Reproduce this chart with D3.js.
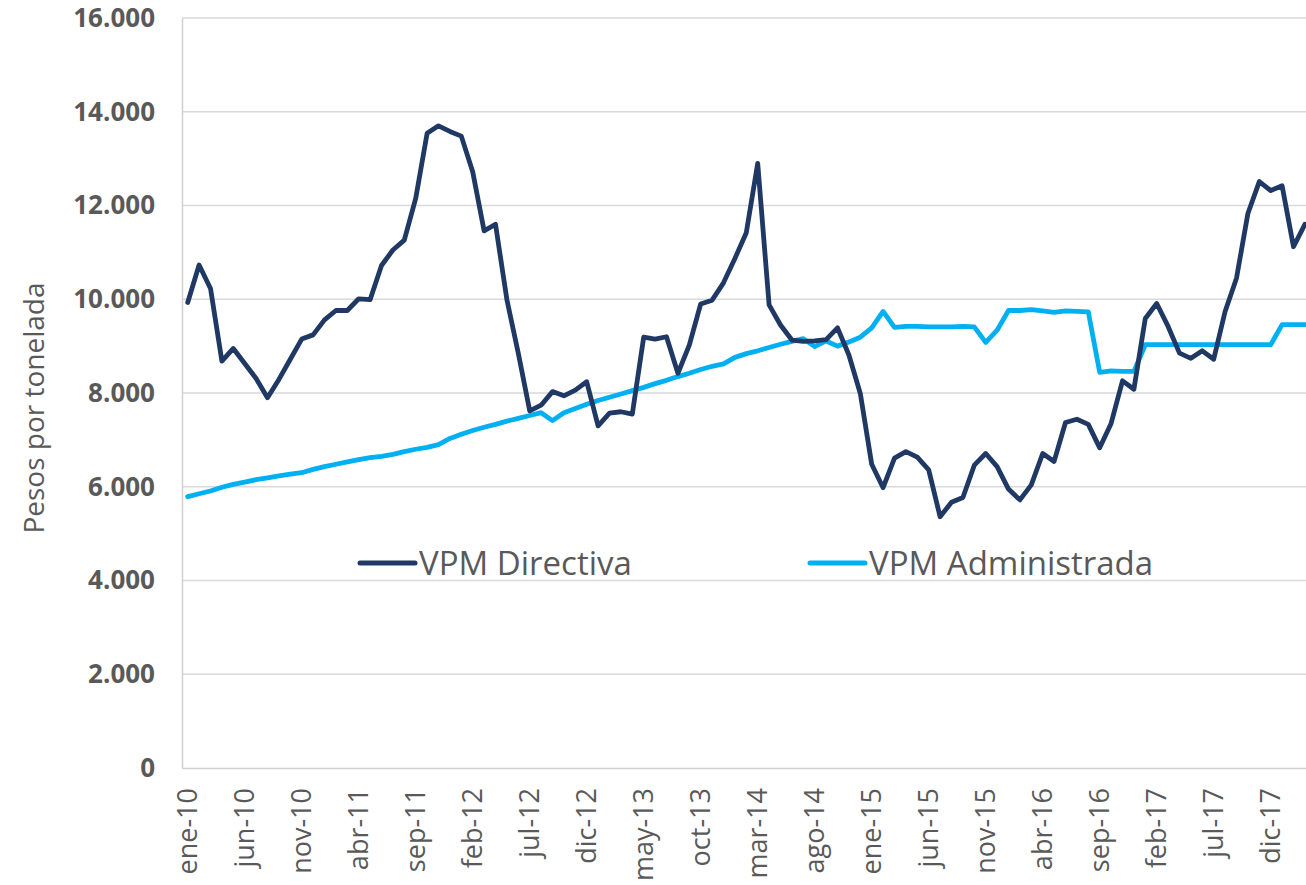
<!DOCTYPE html>
<html>
<head>
<meta charset="utf-8">
<script src="https://cdn.jsdelivr.net/npm/d3@7"></script>
<style>
  html, body { margin: 0; padding: 0; background: #fff; }
  svg { display: block; }
</style>
</head>
<body>
<svg id="chart" width="1306" height="885"></svg>
<script>
// ---- data ----
const monthNames = ["ene","feb","mar","abr","may","jun","jul","ago","sep","oct","nov","dic"];
const years = ["10","11","12","13","14","15","16","17","18"];
const categories = [];
years.forEach(yr => monthNames.forEach(m => categories.push(m + "-" + yr)));
categories.length = 99; // ene-10 .. mar-18

const vpmDirectiva = [
  9930, 10730, 10230, 8680, 8950, 8630, 8310, 7900, 8290, 8720,
  9150, 9240, 9560, 9760, 9760, 10010, 9990, 10720, 11050, 11260,
  12150, 13540, 13700, 13580, 13480, 12720, 11460, 11600, 9990, 8850,
  7620, 7740, 8030, 7940, 8060, 8240, 7300, 7570, 7600, 7550,
  9190, 9150, 9200, 8420, 9020, 9900, 9980, 10350, 10870, 11420,
  12900, 9880, 9450, 9130, 9100, 9110, 9140, 9390, 8810, 7990,
  6480, 5980, 6610, 6750, 6630, 6360, 5360, 5670, 5770, 6460,
  6710, 6430, 5950, 5720, 6040, 6710, 6540, 7370, 7440, 7330,
  6830, 7350, 8260, 8080, 9590, 9910, 9420, 8850, 8740, 8900,
  8720, 9740, 10450, 11830, 12510, 12320, 12420, 11120, 11600
];
const vpmAdministrada = [
  5790, 5850, 5910, 5990, 6050, 6100, 6150, 6190, 6230, 6270,
  6300, 6370, 6430, 6480, 6530, 6580, 6620, 6650, 6690, 6750,
  6800, 6840, 6900, 7030, 7120, 7200, 7270, 7330, 7400, 7460,
  7520, 7580, 7410, 7580, 7670, 7760, 7840, 7910, 7980, 8050,
  8120, 8200, 8270, 8350, 8420, 8500, 8570, 8620, 8760, 8840,
  8900, 8970, 9040, 9100, 9160, 8990, 9110, 9000, 9090, 9190,
  9390, 9740, 9400, 9420, 9420, 9410, 9410, 9410, 9420, 9410,
  9080, 9340, 9760, 9760, 9780, 9750, 9720, 9750, 9740, 9730,
  8440, 8470, 8460, 8460, 9030, 9030, 9030, 9030, 9030, 9030,
  9030, 9030, 9030, 9030, 9030, 9030, 9460, 9460, 9460
];
const yTicks = [0, 2000, 4000, 6000, 8000, 10000, 12000, 14000, 16000];
const seriesNames = ["VPM Directiva", "VPM Administrada"];
const yTitle = "Pesos por tonelada";

// ---- layout ----
const svg = d3.select("#chart");
const plotLeft = 182, plotTop = 18, plotBottom = 768;
const bandW = 11.4;
const plotRight = plotLeft + bandW * categories.length;
const colors = ["#1F3864", "#00B0F0"];
const grey = "#595959";
const font = "'Open Sans', 'Liberation Sans', sans-serif";

const x = d3.scaleBand().domain(categories).range([plotLeft, plotRight]).padding(0);
const y = d3.scaleLinear().domain([0, 16000]).range([plotBottom, plotTop]);
const cx = c => x(c) + x.bandwidth() / 2;

const loc = d3.formatLocale({decimal: ",", thousands: ".", grouping: [3], currency: ["$", ""]});
const fmt = loc.format(",.0f");

// gridlines
svg.append("g")
  .selectAll("line").data(yTicks.filter(t => t > 0)).join("line")
  .attr("x1", plotLeft).attr("x2", plotRight)
  .attr("y1", d => y(d)).attr("y2", d => y(d))
  .attr("stroke", "#d9d9d9").attr("stroke-width", 1.3);

// y axis
const yAxis = svg.append("g")
  .attr("transform", `translate(${plotLeft},0)`)
  .call(d3.axisLeft(y).tickValues(yTicks).tickFormat(fmt).tickSize(0).tickPadding(27));
yAxis.select(".domain").attr("stroke", "#d0d0d0").attr("stroke-width", 1.5);
yAxis.selectAll("text")
  .attr("fill", grey).style("font-family", font).style("font-size", "26px").style("font-weight", "bold");

// x axis
const xAxis = svg.append("g")
  .attr("transform", `translate(0,${plotBottom})`)
  .call(d3.axisBottom(x).tickValues(categories.filter((c, i) => i % 5 === 0)).tickSize(0).tickPadding(0));
xAxis.select(".domain").attr("stroke", "#d0d0d0").attr("stroke-width", 1.5);
xAxis.selectAll("text")
  .attr("fill", grey).style("font-family", font).style("font-size", "27px")
  .attr("text-anchor", "end")
  .attr("transform", "rotate(-90)")
  .attr("x", -20).attr("y", 0).attr("dy", "0.35em");

// y title
svg.append("text")
  .attr("transform", `translate(44,408) rotate(-90)`)
  .attr("text-anchor", "middle")
  .attr("fill", grey).style("font-family", font).style("font-size", "28px")
  .text(yTitle);

// lines
const line = d3.line().x((d, i) => cx(categories[i])).y(d => y(d));
[vpmAdministrada, vpmDirectiva].forEach((s, k) => {
  svg.append("path").datum(s)
    .attr("fill", "none")
    .attr("stroke", k === 0 ? colors[1] : colors[0])
    .attr("stroke-width", 4.8)
    .attr("stroke-linejoin", "round")
    .attr("stroke-linecap", "round")
    .attr("d", line);
});

// legend
const legendItems = [
  {name: seriesNames[0], color: colors[0], x: 360},
  {name: seriesNames[1], color: colors[1], x: 810}
];
const lg = svg.append("g");
legendItems.forEach(it => {
  lg.append("line").attr("x1", it.x).attr("x2", it.x + 55)
    .attr("y1", 563).attr("y2", 563)
    .attr("stroke", it.color).attr("stroke-width", 5).attr("stroke-linecap", "round");
  lg.append("text").attr("x", it.x + 59).attr("y", 563).attr("dy", "0.35em")
    .attr("fill", grey).style("font-family", font).style("font-size", "33px")
    .text(it.name);
});
</script>
</body>
</html>
